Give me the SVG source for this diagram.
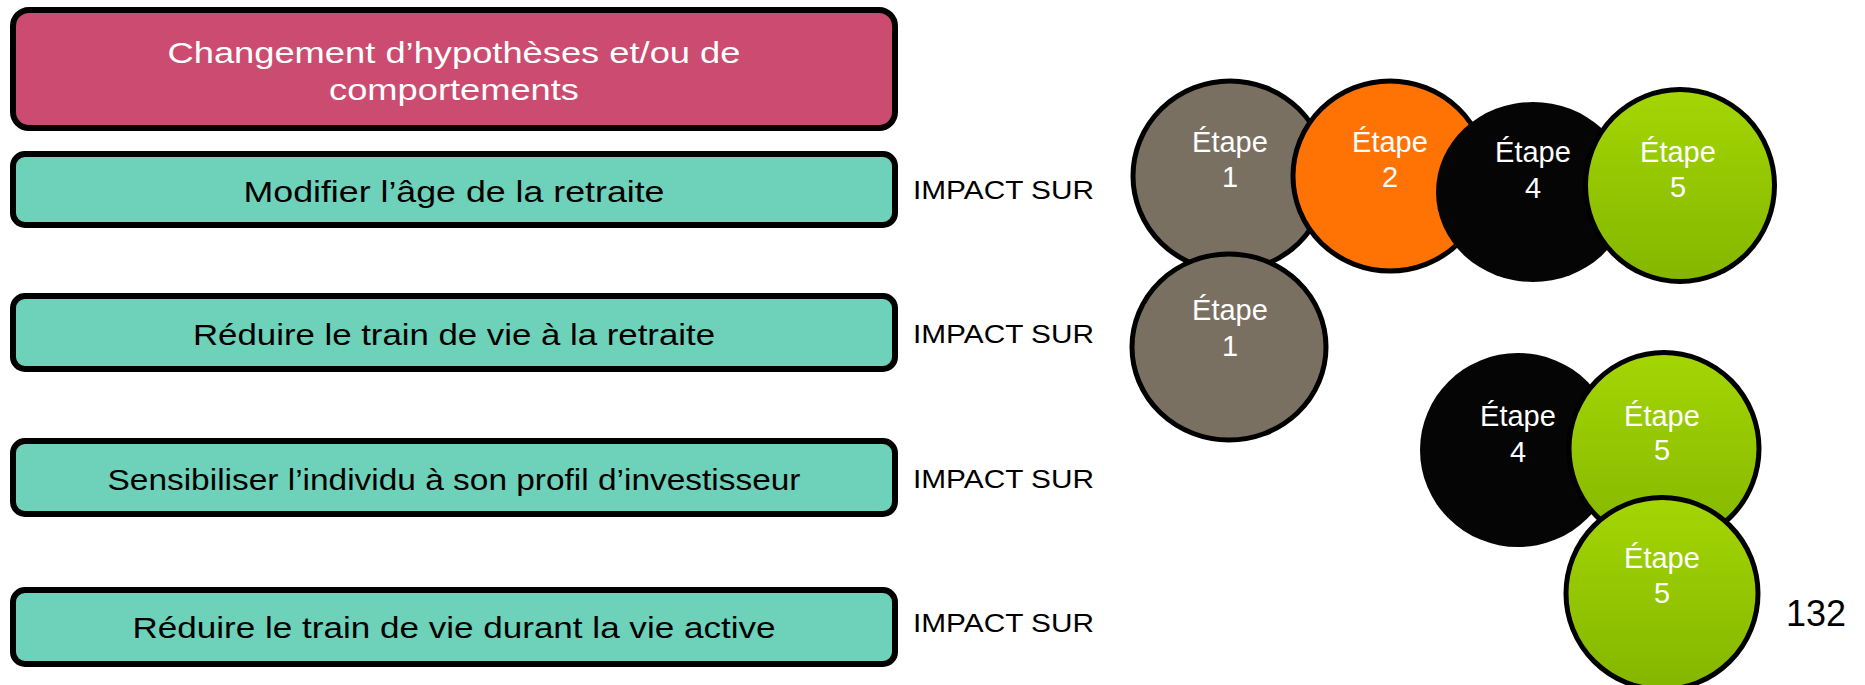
<svg xmlns="http://www.w3.org/2000/svg" width="1865" height="685" viewBox="0 0 1865 685">
<style>
.box{stroke:#000;stroke-width:6}
.pink{fill:#CB4C70}
.teal{fill:#6ED1B9}
.bt{font-family:"Liberation Sans",Arial,sans-serif;font-size:29px;text-anchor:middle}
.imp{font-family:"Liberation Sans",Arial,sans-serif;font-size:26px;fill:#000}
.circ{stroke:#000;stroke-width:5}
.ct{font-family:"Liberation Sans",Arial,sans-serif;font-size:29px;fill:#fff;text-anchor:middle}
</style>
<defs>
<linearGradient id="green" x1="0" y1="0" x2="0" y2="1">
<stop offset="0" stop-color="#A4D604"/>
<stop offset="1" stop-color="#84B600"/>
</linearGradient>
</defs>
<g id="box-changement">
<rect class="box pink" x="13" y="10" width="882" height="118" rx="16"/>
<text class="bt" x="454" y="63" fill="#fff" textLength="573" lengthAdjust="spacingAndGlyphs">Changement d’hypothèses et/ou de</text>
<text class="bt" x="454" y="100" fill="#fff" textLength="250" lengthAdjust="spacingAndGlyphs">comportements</text>
</g>
<g id="box-age">
<rect class="box teal" x="13" y="154" width="882" height="71" rx="12"/>
<text class="bt" x="454" y="202" fill="#000" textLength="421" lengthAdjust="spacingAndGlyphs">Modifier l’âge de la retraite</text>
</g>
<g id="box-train-retraite">
<rect class="box teal" x="13" y="296" width="882" height="73" rx="12"/>
<text class="bt" x="454" y="345" fill="#000" textLength="522" lengthAdjust="spacingAndGlyphs">Réduire le train de vie à la retraite</text>
</g>
<g id="box-profil">
<rect class="box teal" x="13" y="441" width="882" height="73" rx="12"/>
<text class="bt" x="454" y="490" fill="#000" textLength="693" lengthAdjust="spacingAndGlyphs">Sensibiliser l’individu à son profil d’investisseur</text>
</g>
<g id="box-train-active">
<rect class="box teal" x="13" y="590" width="882" height="74" rx="12"/>
<text class="bt" x="454" y="638" fill="#000" textLength="643" lengthAdjust="spacingAndGlyphs">Réduire le train de vie durant la vie active</text>
</g>
<g id="impact-labels">
<text class="imp" x="913" y="199" textLength="181" lengthAdjust="spacingAndGlyphs">IMPACT SUR</text>
<text class="imp" x="913" y="343" textLength="181" lengthAdjust="spacingAndGlyphs">IMPACT SUR</text>
<text class="imp" x="913" y="488" textLength="181" lengthAdjust="spacingAndGlyphs">IMPACT SUR</text>
<text class="imp" x="913" y="632" textLength="181" lengthAdjust="spacingAndGlyphs">IMPACT SUR</text>
</g>
<g id="connectors"></g>
<g id="etape1-a">
<ellipse class="circ" cx="1230" cy="176" rx="97" ry="95" fill="#7A7062"/>
<text class="ct" x="1230" y="152">Étape</text>
<text class="ct" x="1230" y="187">1</text>
</g>
<g id="etape2">
<ellipse class="circ" cx="1390" cy="176" rx="97" ry="95" fill="#FF7304"/>
<text class="ct" x="1390" y="152">Étape</text>
<text class="ct" x="1390" y="187">2</text>
</g>
<g id="etape4-a">
<ellipse cx="1533" cy="192" rx="97" ry="90" fill="#050505"/>
<text class="ct" x="1533" y="162">Étape</text>
<text class="ct" x="1533" y="198">4</text>
</g>
<g id="etape5-a">
<ellipse class="circ" cx="1680" cy="185.5" rx="94.5" ry="96" fill="url(#green)"/>
<text class="ct" x="1678" y="162">Étape</text>
<text class="ct" x="1678" y="197">5</text>
</g>
<g id="etape1-b">
<ellipse class="circ" cx="1229" cy="347" rx="97" ry="93" fill="#7A7062"/>
<text class="ct" x="1230" y="320">Étape</text>
<text class="ct" x="1230" y="356">1</text>
</g>
<g id="etape4-b">
<ellipse cx="1518" cy="450" rx="98" ry="97" fill="#050505"/>
<text class="ct" x="1518" y="426">Étape</text>
<text class="ct" x="1518" y="462">4</text>
</g>
<g id="etape5-b">
<ellipse class="circ" cx="1664" cy="448.5" rx="95" ry="96" fill="url(#green)"/>
<text class="ct" x="1662" y="426">Étape</text>
<text class="ct" x="1662" y="460">5</text>
</g>
<g id="etape5-c">
<ellipse class="circ" cx="1662" cy="593.5" rx="96" ry="96" fill="url(#green)"/>
<text class="ct" x="1662" y="568">Étape</text>
<text class="ct" x="1662" y="603">5</text>
</g>
<text x="1786" y="626" font-family="'Liberation Sans',Arial,sans-serif" font-size="36" fill="#000">132</text>
</svg>
